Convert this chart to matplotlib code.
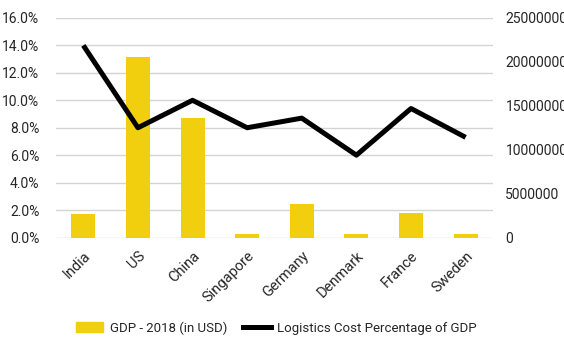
import numpy as np
import matplotlib.pyplot as plt
from matplotlib.ticker import FuncFormatter, MultipleLocator
from matplotlib.transforms import ScaledTranslation

plt.rcParams['font.family'] = ['Roboto', 'DejaVu Sans']

countries = ['India', 'US', 'China', 'Singapore', 'Germany', 'Denmark', 'France', 'Sweden']
gdp_2018 = [2650000, 20544000, 13608000, 364000, 3850000, 352000, 2780000, 440000]
logistics_pct = [14.0, 8.0, 10.0, 8.0, 8.7, 6.0, 9.4, 7.3]

bar_color = '#f2cf0e'
text_color = '#262626'
grid_color = '#d4d4d4'

fig = plt.figure(figsize=(5.64, 3.39), dpi=100)
ax = fig.add_axes([0.0993, 0.2994, 0.7747, 0.6476])
ax2 = ax.twinx()

x = np.arange(len(countries))

# GDP bars on the right axis
ax2.bar(x, gdp_2018, width=0.44, color=bar_color, zorder=2)
ax2.set_ylim(0, 25000000)
ax2.yaxis.set_major_locator(MultipleLocator(5000000))
ax2.yaxis.set_major_formatter(FuncFormatter(lambda v, p: '%d' % v))

# logistics cost line on the left axis
ax.set_zorder(ax2.get_zorder() + 1)
ax.patch.set_visible(False)
ax.plot(x, logistics_pct, color='black', linewidth=3.6, solid_capstyle='butt', zorder=3)
ax.set_ylim(0, 16)
ax.yaxis.set_major_locator(MultipleLocator(2))
ax.yaxis.set_major_formatter(FuncFormatter(lambda v, p: '%.1f%%' % v))
ax.set_xlim(-0.5, len(countries) - 0.5)
ax.set_xticks(x)
ax.set_xticklabels(countries, rotation=45, ha='right', rotation_mode='anchor', fontsize=10.5)
shift = ScaledTranslation(8 / 72, 0, fig.dpi_scale_trans)
for lbl in ax.get_xticklabels():
    lbl.set_transform(lbl.get_transform() + shift)

# gridlines belong behind the bars, so draw them on the bar axis
for v in np.arange(0, 17, 2):
    ax2.axhline(v / 16 * 25000000, color=grid_color, linewidth=1.0, zorder=1)

for a in (ax, ax2):
    for s in a.spines.values():
        s.set_visible(False)
    a.tick_params(length=0, colors=text_color)
ax.tick_params(axis='y', pad=12, labelsize=10)
ax.tick_params(axis='x', pad=8)
ax2.tick_params(axis='y', pad=9, labelsize=10)

handles = [plt.Rectangle((0, 0), 1, 1, color=bar_color),
           plt.Line2D([0], [0], color='black', linewidth=3.6)]
fig.legend(handles, ['GDP - 2018 (in USD)', 'Logistics Cost Percentage of GDP'],
           loc='center', bbox_to_anchor=(0.49, 0.033), ncol=2, frameon=False,
           fontsize=9.5, handlelength=2.1, handletextpad=0.5, columnspacing=1.2,
           labelcolor=text_color)

fig.savefig('out.png', dpi=100)
